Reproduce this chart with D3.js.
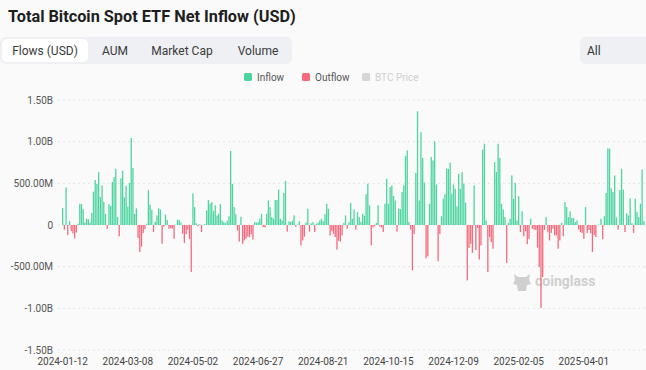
<!DOCTYPE html>
<html lang='en'>
  <head>
    <meta charset='utf-8'>
    <style type='text/css'>
      html, body {margin: 0; padding: 0; background-color: #fafafa;}
      #chart {width: 646px; height: 370px; overflow: hidden;}
      svg {display: block; font-family: Roboto, 'Noto Sans', sans-serif;}
    </style>
  </head>
  <body>

    <div id='chart'>
      <svg width='646' height='370'></svg>
    </div>

    <script src='https://cdn.jsdelivr.net/npm/d3@7'></script>
    <script type='text/javascript'>
        // daily net flow, millions of USD
        var netFlowM = [
          205, -55, 450, -120, 45, -70, -100, -160, -90, 15,
          255, 250, 190, 30, 75, 70, 30, 145, 400, 540,
          495, 635, 335, 475, 275, 135, -45, 250, 230, 515,
          575, 675, 95, -135, 560, 650, 330, 470, 220, 505,
          1045, 685, 135, 200, -155, -325, -260, -95, -50, 15,
          418, 245, 180, -85, 40, 115, 200, 185, -225, -20,
          125, 60, -45, -40, -45, -165, 5, 65, 60, 30,
          -105, -215, -110, -55, -165, -565, 380, 215, 20, -15,
          10, -85, 2, 10, 175, 300, 255, 275, 170, 235,
          115, 135, 250, 55, 35, 25, 50, 105, 888, 490,
          215, 130, -65, -200, 100, -225, -185, -165, -140, -145,
          -110, -175, 35, 28, 35, 75, 135, -25, -30, 135,
          295, 215, 95, 75, 300, 300, 425, 75, 55, 385,
          530, -80, 45, 35, 50, 115, -20, 5, 45, -245,
          -185, -140, 30, 195, -80, 20, 35, -85, 15, 30,
          55, 75, 45, 130, 255, 195, -125, -70, -105, -145,
          -295, -190, -200, -125, 25, 115, -45, 35, 265, 75,
          185, -55, 155, 95, 35, 135, 110, 370, 495, 235,
          -245, -30, -15, 25, 235, -20, -30, -85, 255, 555,
          255, 455, 475, 350, 295, -80, 195, 190, 395, 475,
          830, 895, 35, -55, -545, -110, 625, 1365, 295, 1115,
          805, 510, -400, -375, 255, 815, 775, 1005, 485, -435,
          -110, 105, 315, 370, 675, 675, 750, 375, 485, 435,
          225, 615, 435, 635, 495, 270, -665, -275, -225, -335,
          475, -300, -35, -415, -245, 905, 975, 55, -565, -145,
          -205, -285, 755, 635, 975, 805, 255, 185, 95, -455,
          25, 75, 595, 315, 505, 55, 345, -85, 165, -135,
          -75, -230, -165, 75, -45, -55, -60, -270, -505, -995,
          -625, -60, 95, -85, -185, -95, -45, -125, -125, -285,
          -185, 25, -135, 275, 215, 95, 165, 85, 85, 35,
          55, -55, -85, -95, -165, 215, -95, -60, -100, -325,
          -120, -145, 2, 2, 75, -170, 105, 385, 920, 915,
          440, 395, 595, 90, -55, 420, 675, 425, -85, 140,
          115, 320, 20, -95, 315, 155, 95, 255, 665, 45
        ];

        // US market holidays in the period (no ETF trading)
        var holidays = [
          '2024-01-15', '2024-02-19', '2024-03-29', '2024-05-27', '2024-06-19',
          '2024-07-04', '2024-09-02', '2024-11-28', '2024-12-25', '2025-01-01',
          '2025-01-09', '2025-01-20', '2025-02-17', '2025-04-18', '2025-05-26'
        ];

        var tickLabels = ['2024-01-12', '2024-03-08', '2024-05-02', '2024-06-27', '2024-08-21',
                          '2024-10-15', '2024-12-09', '2025-02-05', '2025-04-01'];

        var yTicks = [-1.5e9, -1e9, -5e8, 0, 5e8, 1e9, 1.5e9];

        var tabs = ['Flows (USD)', 'AUM', 'Market Cap', 'Volume'];

        var legendItems = [
          {name: 'Inflow',    color: '#4cd59f', text: '#555'},
          {name: 'Outflow',   color: '#f5697c', text: '#555'},
          {name: 'BTC Price', color: '#d6d6d6', text: '#cfcfcf'}
        ];

        // trading days starting at the first date
        var fmt = d3.utcFormat('%Y-%m-%d');
        var categories = [];
        var day = new Date(Date.UTC(2024, 0, 12));
        while (categories.length < netFlowM.length) {
          var s = fmt(day), wd = day.getUTCDay();
          if (wd !== 0 && wd !== 6 && holidays.indexOf(s) < 0) categories.push(s);
          day = d3.utcDay.offset(day, 1);
        }
        var data = categories.map(function(d, i) { return {date: d, v: netFlowM[i] * 1e6}; });

        var svg = d3.select('#chart svg');

        // title
        svg.append('text')
          .attr('x', 8).attr('y', 22)
          .attr('font-size', 16.3).attr('font-weight', 700)
          .attr('fill', '#1e1e1e')
          .text('Total Bitcoin Spot ETF Net Inflow (USD)');

        // tab bar
        svg.append('rect').attr('x', 0).attr('y', 37).attr('width', 292).attr('height', 27)
          .attr('rx', 6).attr('fill', '#eef0f3');
        svg.append('rect').attr('x', 2).attr('y', 39).attr('width', 86).attr('height', 23)
          .attr('rx', 5).attr('fill', '#fff');
        var tabX = [45, 115, 182, 258];
        svg.selectAll('.tab').data(tabs).enter().append('text')
          .attr('class', 'tab')
          .attr('x', function(d, i) { return tabX[i]; })
          .attr('y', 55)
          .attr('text-anchor', 'middle')
          .attr('font-size', 12)
          .attr('fill', '#3a3a3a')
          .text(function(d) { return d; });

        // range selector (cut off at the right)
        svg.append('rect').attr('x', 580).attr('y', 37).attr('width', 90).attr('height', 27)
          .attr('rx', 6).attr('fill', '#eef0f3');
        svg.append('text').attr('x', 587).attr('y', 55).attr('font-size', 12)
          .attr('fill', '#333').text('All');

        // legend
        var legX = [244, 302, 362];
        var leg = svg.selectAll('.leg').data(legendItems).enter().append('g')
          .attr('class', 'leg')
          .attr('transform', function(d, i) { return 'translate(' + legX[i] + ',73)'; });
        leg.append('rect').attr('width', 8).attr('height', 8).attr('rx', 1.5)
          .attr('fill', function(d) { return d.color; });
        leg.append('text').attr('x', 13).attr('y', 8).attr('font-size', 10)
          .attr('fill', function(d) { return d.text; })
          .text(function(d) { return d.name; });

        // scales
        var x = d3.scaleBand().domain(categories).range([62, 644.5]).paddingInner(0.25);
        var y = d3.scaleLinear().domain([-1.5e9, 1.5e9]).range([350, 100]);

        function fmtY(v) {
          if (v === 0) return '0';
          if (Math.abs(v) >= 1e9) return (v / 1e9).toFixed(2) + 'B';
          return (v / 1e6).toFixed(2) + 'M';
        }

        // grid
        svg.append('g').selectAll('line').data(yTicks).enter().append('line')
          .attr('x1', 58).attr('x2', 646)
          .attr('y1', function(d) { return y(d); })
          .attr('y2', function(d) { return y(d); })
          .attr('stroke', '#e4e4e4')
          .attr('stroke-dasharray', '2,3');

        // y axis
        var yAxis = svg.append('g')
          .attr('transform', 'translate(58,0)')
          .call(d3.axisLeft(y).tickValues(yTicks).tickFormat(fmtY).tickSize(0).tickPadding(5));
        yAxis.select('.domain').remove();
        yAxis.selectAll('text').attr('font-size', 10).attr('fill', '#555')
          .attr('font-family', 'Roboto, sans-serif');

        // watermark
        var wm = svg.append('g').attr('transform', 'translate(522,281)');
        wm.append('path')
          .attr('d', 'M-8,-7 L-4,-4 L4,-4 L8,-7 L7,-1 L9,3 L5,4 L4,10 L-4,10 L-5,4 L-9,3 L-7,-1 Z')
          .attr('fill', '#cfcfcf');
        wm.append('text').attr('x', 13).attr('y', 5).attr('font-size', 14)
          .attr('font-weight', 700).attr('fill', '#cfcfcf').text('coinglass');

        // bars
        svg.append('g').selectAll('rect').data(data).enter().append('rect')
          .attr('x', function(d) { return x(d.date); })
          .attr('width', x.bandwidth())
          .attr('y', function(d) { return y(Math.max(0, d.v)); })
          .attr('height', function(d) { return Math.abs(y(d.v) - y(0)); })
          .attr('fill', function(d) { return d.v >= 0 ? legendItems[0].color : legendItems[1].color; });

        // x axis
        var xAxis = svg.append('g')
          .attr('transform', 'translate(0,354)')
          .call(d3.axisBottom(x).tickValues(tickLabels).tickSize(0).tickPadding(4));
        xAxis.select('.domain').remove();
        xAxis.selectAll('text').attr('font-size', 10).attr('fill', '#444')
          .attr('font-family', 'Roboto, sans-serif');
    </script>
  </body>
</html>
